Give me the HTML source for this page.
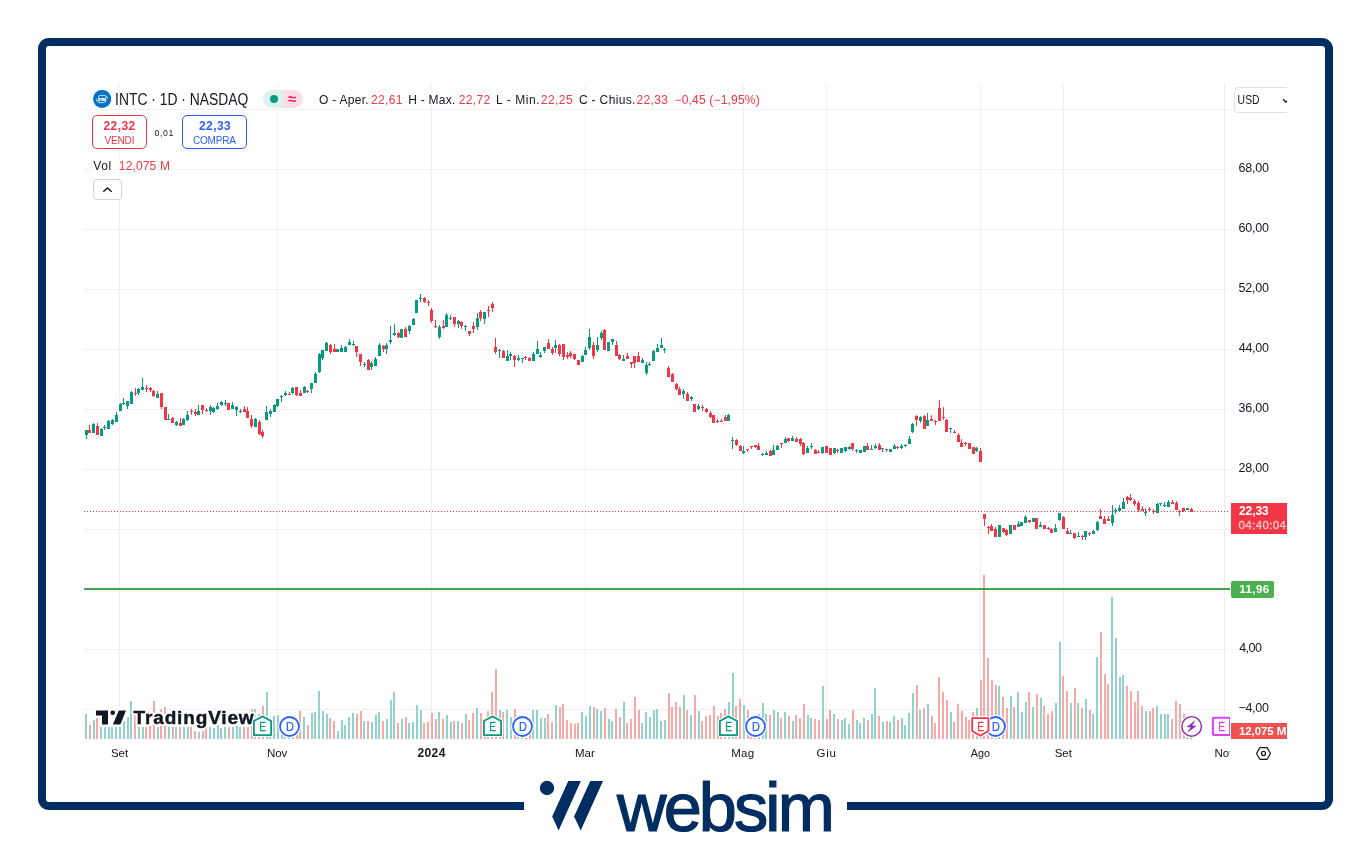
<!DOCTYPE html>
<html lang="it">
<head>
<meta charset="utf-8">
<title>INTC 1D NASDAQ</title>
<style>
html,body{margin:0;padding:0;background:#fff;}
body{width:1371px;height:848px;position:relative;overflow:hidden;font-family:"Liberation Sans",sans-serif;color:#131722;}
.abs{position:absolute;white-space:nowrap;}
#frame{position:absolute;left:38px;top:38px;width:1279px;height:756px;border:8px solid #012D60;border-radius:11px;}
#gap{position:absolute;left:524px;top:800px;width:323px;height:12px;background:#fff;}
#chart{position:absolute;left:0;top:0;}
.t12{font-size:12px;line-height:14px;}
.red{color:#F23645;}
.ax{position:absolute;left:1239px;font-size:12px;line-height:14px;color:#131722;white-space:nowrap;}
.tl{position:absolute;top:746px;font-size:12px;line-height:14px;color:#131722;white-space:nowrap;transform:translateX(-50%);}
.box{position:absolute;box-sizing:border-box;border:1px solid;border-radius:5px;background:#fff;text-align:center;}
.box b{display:block;font-size:12px;line-height:12px;margin-top:5px;font-weight:bold;letter-spacing:.3px;}
.box i{display:block;font-style:normal;font-size:10px;line-height:10px;margin-top:4px;}
</style>
</head>
<body>
<div id="frame"></div>
<div id="gap"></div>

<svg id="chart" style="will-change:transform" width="1371" height="848" viewBox="0 0 1371 848">
<g shape-rendering="crispEdges">
<rect x="84" y="109" width="1146" height="1" fill="#28322F" fill-opacity=".07"/>
<rect x="84" y="169" width="1146" height="1" fill="#28322F" fill-opacity=".07"/>
<rect x="84" y="229" width="1146" height="1" fill="#28322F" fill-opacity=".07"/>
<rect x="84" y="289" width="1146" height="1" fill="#28322F" fill-opacity=".07"/>
<rect x="84" y="349" width="1146" height="1" fill="#28322F" fill-opacity=".07"/>
<rect x="84" y="409" width="1146" height="1" fill="#28322F" fill-opacity=".07"/>
<rect x="84" y="469" width="1146" height="1" fill="#28322F" fill-opacity=".07"/>
<rect x="84" y="529" width="1146" height="1" fill="#28322F" fill-opacity=".07"/>
<rect x="84" y="589" width="1146" height="1" fill="#28322F" fill-opacity=".07"/>
<rect x="84" y="649" width="1146" height="1" fill="#28322F" fill-opacity=".07"/>
<rect x="84" y="709" width="1146" height="1" fill="#28322F" fill-opacity=".07"/>
<rect x="119" y="84" width="1" height="655" fill="#28322F" fill-opacity=".07"/>
<rect x="277" y="84" width="1" height="655" fill="#28322F" fill-opacity=".07"/>
<rect x="431" y="84" width="1" height="655" fill="#28322F" fill-opacity=".07"/>
<rect x="585" y="84" width="1" height="655" fill="#28322F" fill-opacity=".07"/>
<rect x="743" y="84" width="1" height="655" fill="#28322F" fill-opacity=".07"/>
<rect x="826" y="84" width="1" height="655" fill="#28322F" fill-opacity=".07"/>
<rect x="980" y="84" width="1" height="655" fill="#28322F" fill-opacity=".07"/>
<rect x="1063" y="84" width="1" height="655" fill="#28322F" fill-opacity=".07"/>
<rect x="1224" y="84" width="1" height="655" fill="#28322F" fill-opacity=".09"/>
</g>
<g shape-rendering="crispEdges">
<rect x="85" y="714" width="2" height="25" fill="#92D2CC"/>
<rect x="89" y="725" width="2" height="14" fill="#F7A9A7"/>
<rect x="93" y="720" width="2" height="19" fill="#92D2CC"/>
<rect x="96" y="718" width="2" height="21" fill="#F7A9A7"/>
<rect x="100" y="727" width="2" height="12" fill="#92D2CC"/>
<rect x="104" y="727" width="2" height="12" fill="#92D2CC"/>
<rect x="108" y="727" width="2" height="12" fill="#92D2CC"/>
<rect x="111" y="727" width="2" height="12" fill="#92D2CC"/>
<rect x="115" y="727" width="2" height="12" fill="#92D2CC"/>
<rect x="119" y="727" width="2" height="12" fill="#92D2CC"/>
<rect x="123" y="721" width="2" height="18" fill="#92D2CC"/>
<rect x="127" y="717" width="2" height="22" fill="#92D2CC"/>
<rect x="130" y="701" width="2" height="38" fill="#92D2CC"/>
<rect x="134" y="715" width="2" height="24" fill="#F7A9A7"/>
<rect x="138" y="727" width="2" height="12" fill="#92D2CC"/>
<rect x="142" y="727" width="2" height="12" fill="#92D2CC"/>
<rect x="145" y="727" width="2" height="12" fill="#F7A9A7"/>
<rect x="149" y="722" width="2" height="17" fill="#F7A9A7"/>
<rect x="153" y="701" width="2" height="38" fill="#F7A9A7"/>
<rect x="157" y="727" width="2" height="12" fill="#92D2CC"/>
<rect x="160" y="709" width="2" height="30" fill="#F7A9A7"/>
<rect x="164" y="707" width="2" height="32" fill="#F7A9A7"/>
<rect x="168" y="727" width="2" height="12" fill="#92D2CC"/>
<rect x="172" y="727" width="2" height="12" fill="#F7A9A7"/>
<rect x="175" y="727" width="2" height="12" fill="#92D2CC"/>
<rect x="179" y="727" width="2" height="12" fill="#F7A9A7"/>
<rect x="183" y="727" width="2" height="12" fill="#92D2CC"/>
<rect x="187" y="727" width="2" height="12" fill="#92D2CC"/>
<rect x="190" y="727" width="2" height="12" fill="#F7A9A7"/>
<rect x="194" y="731" width="2" height="8" fill="#F7A9A7"/>
<rect x="198" y="732" width="2" height="7" fill="#92D2CC"/>
<rect x="202" y="731" width="2" height="8" fill="#F7A9A7"/>
<rect x="205" y="728" width="2" height="11" fill="#F7A9A7"/>
<rect x="209" y="727" width="2" height="12" fill="#92D2CC"/>
<rect x="213" y="728" width="2" height="11" fill="#92D2CC"/>
<rect x="217" y="725" width="2" height="14" fill="#92D2CC"/>
<rect x="220" y="728" width="2" height="11" fill="#92D2CC"/>
<rect x="224" y="727" width="2" height="12" fill="#92D2CC"/>
<rect x="228" y="727" width="2" height="12" fill="#F7A9A7"/>
<rect x="232" y="727" width="2" height="12" fill="#92D2CC"/>
<rect x="236" y="726" width="2" height="13" fill="#92D2CC"/>
<rect x="239" y="727" width="2" height="12" fill="#92D2CC"/>
<rect x="243" y="727" width="2" height="12" fill="#F7A9A7"/>
<rect x="247" y="727" width="2" height="12" fill="#F7A9A7"/>
<rect x="251" y="709" width="2" height="30" fill="#F7A9A7"/>
<rect x="254" y="709" width="2" height="30" fill="#92D2CC"/>
<rect x="258" y="714" width="2" height="25" fill="#F7A9A7"/>
<rect x="262" y="706" width="2" height="33" fill="#F7A9A7"/>
<rect x="266" y="692" width="2" height="47" fill="#92D2CC"/>
<rect x="269" y="718" width="2" height="21" fill="#92D2CC"/>
<rect x="273" y="716" width="2" height="23" fill="#92D2CC"/>
<rect x="277" y="715" width="2" height="24" fill="#92D2CC"/>
<rect x="281" y="720" width="2" height="19" fill="#92D2CC"/>
<rect x="284" y="722" width="2" height="17" fill="#92D2CC"/>
<rect x="288" y="722" width="2" height="17" fill="#F7A9A7"/>
<rect x="292" y="722" width="2" height="17" fill="#92D2CC"/>
<rect x="296" y="720" width="2" height="19" fill="#F7A9A7"/>
<rect x="299" y="711" width="2" height="28" fill="#F7A9A7"/>
<rect x="303" y="717" width="2" height="22" fill="#92D2CC"/>
<rect x="307" y="725" width="2" height="14" fill="#F7A9A7"/>
<rect x="311" y="713" width="2" height="26" fill="#92D2CC"/>
<rect x="314" y="712" width="2" height="27" fill="#92D2CC"/>
<rect x="318" y="691" width="2" height="48" fill="#92D2CC"/>
<rect x="322" y="711" width="2" height="28" fill="#92D2CC"/>
<rect x="326" y="714" width="2" height="25" fill="#92D2CC"/>
<rect x="329" y="718" width="2" height="21" fill="#F7A9A7"/>
<rect x="333" y="721" width="2" height="18" fill="#F7A9A7"/>
<rect x="337" y="731" width="2" height="8" fill="#92D2CC"/>
<rect x="341" y="720" width="2" height="19" fill="#92D2CC"/>
<rect x="344" y="725" width="2" height="14" fill="#92D2CC"/>
<rect x="348" y="717" width="2" height="22" fill="#92D2CC"/>
<rect x="352" y="713" width="2" height="26" fill="#92D2CC"/>
<rect x="356" y="714" width="2" height="25" fill="#F7A9A7"/>
<rect x="360" y="711" width="2" height="28" fill="#F7A9A7"/>
<rect x="363" y="721" width="2" height="18" fill="#92D2CC"/>
<rect x="367" y="721" width="2" height="18" fill="#F7A9A7"/>
<rect x="371" y="722" width="2" height="17" fill="#92D2CC"/>
<rect x="375" y="715" width="2" height="24" fill="#92D2CC"/>
<rect x="378" y="712" width="2" height="27" fill="#92D2CC"/>
<rect x="382" y="721" width="2" height="18" fill="#F7A9A7"/>
<rect x="386" y="719" width="2" height="20" fill="#92D2CC"/>
<rect x="390" y="700" width="2" height="39" fill="#92D2CC"/>
<rect x="393" y="692" width="2" height="47" fill="#92D2CC"/>
<rect x="397" y="723" width="2" height="16" fill="#F7A9A7"/>
<rect x="401" y="719" width="2" height="20" fill="#92D2CC"/>
<rect x="405" y="717" width="2" height="22" fill="#F7A9A7"/>
<rect x="408" y="723" width="2" height="16" fill="#92D2CC"/>
<rect x="412" y="722" width="2" height="17" fill="#92D2CC"/>
<rect x="416" y="705" width="2" height="34" fill="#92D2CC"/>
<rect x="420" y="710" width="2" height="29" fill="#92D2CC"/>
<rect x="423" y="723" width="2" height="16" fill="#F7A9A7"/>
<rect x="427" y="722" width="2" height="17" fill="#F7A9A7"/>
<rect x="431" y="713" width="2" height="26" fill="#F7A9A7"/>
<rect x="435" y="719" width="2" height="20" fill="#F7A9A7"/>
<rect x="438" y="712" width="2" height="27" fill="#92D2CC"/>
<rect x="442" y="719" width="2" height="20" fill="#F7A9A7"/>
<rect x="446" y="715" width="2" height="24" fill="#92D2CC"/>
<rect x="450" y="722" width="2" height="17" fill="#92D2CC"/>
<rect x="453" y="721" width="2" height="18" fill="#F7A9A7"/>
<rect x="457" y="721" width="2" height="18" fill="#92D2CC"/>
<rect x="461" y="723" width="2" height="16" fill="#F7A9A7"/>
<rect x="465" y="714" width="2" height="25" fill="#92D2CC"/>
<rect x="468" y="720" width="2" height="19" fill="#F7A9A7"/>
<rect x="472" y="713" width="2" height="26" fill="#F7A9A7"/>
<rect x="476" y="708" width="2" height="31" fill="#92D2CC"/>
<rect x="480" y="713" width="2" height="26" fill="#F7A9A7"/>
<rect x="484" y="718" width="2" height="21" fill="#92D2CC"/>
<rect x="487" y="711" width="2" height="28" fill="#F7A9A7"/>
<rect x="491" y="692" width="2" height="47" fill="#F7A9A7"/>
<rect x="495" y="669" width="2" height="70" fill="#F7A9A7"/>
<rect x="499" y="710" width="2" height="29" fill="#92D2CC"/>
<rect x="502" y="712" width="2" height="27" fill="#F7A9A7"/>
<rect x="506" y="710" width="2" height="29" fill="#92D2CC"/>
<rect x="510" y="717" width="2" height="22" fill="#92D2CC"/>
<rect x="514" y="709" width="2" height="30" fill="#F7A9A7"/>
<rect x="517" y="722" width="2" height="17" fill="#92D2CC"/>
<rect x="521" y="722" width="2" height="17" fill="#92D2CC"/>
<rect x="525" y="722" width="2" height="17" fill="#F7A9A7"/>
<rect x="529" y="722" width="2" height="17" fill="#F7A9A7"/>
<rect x="532" y="710" width="2" height="29" fill="#92D2CC"/>
<rect x="536" y="710" width="2" height="29" fill="#92D2CC"/>
<rect x="540" y="718" width="2" height="21" fill="#92D2CC"/>
<rect x="544" y="718" width="2" height="21" fill="#92D2CC"/>
<rect x="547" y="714" width="2" height="25" fill="#F7A9A7"/>
<rect x="551" y="722" width="2" height="17" fill="#F7A9A7"/>
<rect x="555" y="705" width="2" height="34" fill="#92D2CC"/>
<rect x="559" y="707" width="2" height="32" fill="#F7A9A7"/>
<rect x="562" y="704" width="2" height="35" fill="#F7A9A7"/>
<rect x="566" y="720" width="2" height="19" fill="#F7A9A7"/>
<rect x="570" y="723" width="2" height="16" fill="#F7A9A7"/>
<rect x="574" y="724" width="2" height="15" fill="#F7A9A7"/>
<rect x="577" y="723" width="2" height="16" fill="#F7A9A7"/>
<rect x="581" y="712" width="2" height="27" fill="#92D2CC"/>
<rect x="585" y="716" width="2" height="23" fill="#92D2CC"/>
<rect x="589" y="706" width="2" height="33" fill="#92D2CC"/>
<rect x="593" y="707" width="2" height="32" fill="#F7A9A7"/>
<rect x="596" y="709" width="2" height="30" fill="#92D2CC"/>
<rect x="600" y="711" width="2" height="28" fill="#92D2CC"/>
<rect x="604" y="708" width="2" height="31" fill="#F7A9A7"/>
<rect x="608" y="719" width="2" height="20" fill="#92D2CC"/>
<rect x="611" y="721" width="2" height="18" fill="#92D2CC"/>
<rect x="615" y="709" width="2" height="30" fill="#F7A9A7"/>
<rect x="619" y="717" width="2" height="22" fill="#F7A9A7"/>
<rect x="623" y="702" width="2" height="37" fill="#92D2CC"/>
<rect x="626" y="723" width="2" height="16" fill="#F7A9A7"/>
<rect x="630" y="719" width="2" height="20" fill="#F7A9A7"/>
<rect x="634" y="697" width="2" height="42" fill="#F7A9A7"/>
<rect x="638" y="710" width="2" height="29" fill="#F7A9A7"/>
<rect x="641" y="723" width="2" height="16" fill="#92D2CC"/>
<rect x="645" y="712" width="2" height="27" fill="#92D2CC"/>
<rect x="649" y="717" width="2" height="22" fill="#92D2CC"/>
<rect x="653" y="710" width="2" height="29" fill="#92D2CC"/>
<rect x="656" y="709" width="2" height="30" fill="#92D2CC"/>
<rect x="660" y="721" width="2" height="18" fill="#92D2CC"/>
<rect x="664" y="720" width="2" height="19" fill="#92D2CC"/>
<rect x="668" y="693" width="2" height="46" fill="#F7A9A7"/>
<rect x="671" y="707" width="2" height="32" fill="#F7A9A7"/>
<rect x="675" y="702" width="2" height="37" fill="#F7A9A7"/>
<rect x="679" y="707" width="2" height="32" fill="#F7A9A7"/>
<rect x="683" y="695" width="2" height="44" fill="#92D2CC"/>
<rect x="686" y="710" width="2" height="29" fill="#F7A9A7"/>
<rect x="690" y="715" width="2" height="24" fill="#92D2CC"/>
<rect x="694" y="695" width="2" height="44" fill="#F7A9A7"/>
<rect x="698" y="711" width="2" height="28" fill="#92D2CC"/>
<rect x="701" y="721" width="2" height="18" fill="#F7A9A7"/>
<rect x="705" y="716" width="2" height="23" fill="#F7A9A7"/>
<rect x="709" y="715" width="2" height="24" fill="#F7A9A7"/>
<rect x="713" y="706" width="2" height="33" fill="#F7A9A7"/>
<rect x="717" y="716" width="2" height="23" fill="#F7A9A7"/>
<rect x="720" y="713" width="2" height="26" fill="#F7A9A7"/>
<rect x="724" y="709" width="2" height="30" fill="#F7A9A7"/>
<rect x="728" y="702" width="2" height="37" fill="#92D2CC"/>
<rect x="732" y="673" width="2" height="66" fill="#92D2CC"/>
<rect x="735" y="706" width="2" height="33" fill="#F7A9A7"/>
<rect x="739" y="699" width="2" height="40" fill="#F7A9A7"/>
<rect x="743" y="705" width="2" height="34" fill="#92D2CC"/>
<rect x="747" y="710" width="2" height="29" fill="#F7A9A7"/>
<rect x="750" y="720" width="2" height="19" fill="#F7A9A7"/>
<rect x="754" y="720" width="2" height="19" fill="#F7A9A7"/>
<rect x="758" y="714" width="2" height="25" fill="#F7A9A7"/>
<rect x="762" y="703" width="2" height="36" fill="#92D2CC"/>
<rect x="765" y="714" width="2" height="25" fill="#92D2CC"/>
<rect x="769" y="715" width="2" height="24" fill="#F7A9A7"/>
<rect x="773" y="710" width="2" height="29" fill="#92D2CC"/>
<rect x="777" y="712" width="2" height="27" fill="#92D2CC"/>
<rect x="780" y="718" width="2" height="21" fill="#F7A9A7"/>
<rect x="784" y="712" width="2" height="27" fill="#92D2CC"/>
<rect x="788" y="716" width="2" height="23" fill="#F7A9A7"/>
<rect x="792" y="721" width="2" height="18" fill="#92D2CC"/>
<rect x="795" y="715" width="2" height="24" fill="#F7A9A7"/>
<rect x="799" y="718" width="2" height="21" fill="#F7A9A7"/>
<rect x="803" y="704" width="2" height="35" fill="#F7A9A7"/>
<rect x="807" y="715" width="2" height="24" fill="#92D2CC"/>
<rect x="810" y="718" width="2" height="21" fill="#92D2CC"/>
<rect x="814" y="719" width="2" height="20" fill="#F7A9A7"/>
<rect x="818" y="720" width="2" height="19" fill="#F7A9A7"/>
<rect x="822" y="686" width="2" height="53" fill="#92D2CC"/>
<rect x="826" y="719" width="2" height="20" fill="#F7A9A7"/>
<rect x="829" y="710" width="2" height="29" fill="#F7A9A7"/>
<rect x="833" y="714" width="2" height="25" fill="#92D2CC"/>
<rect x="837" y="719" width="2" height="20" fill="#F7A9A7"/>
<rect x="841" y="720" width="2" height="19" fill="#92D2CC"/>
<rect x="844" y="718" width="2" height="21" fill="#92D2CC"/>
<rect x="848" y="724" width="2" height="15" fill="#92D2CC"/>
<rect x="852" y="710" width="2" height="29" fill="#F7A9A7"/>
<rect x="856" y="720" width="2" height="19" fill="#92D2CC"/>
<rect x="859" y="723" width="2" height="16" fill="#92D2CC"/>
<rect x="863" y="718" width="2" height="21" fill="#92D2CC"/>
<rect x="867" y="720" width="2" height="19" fill="#F7A9A7"/>
<rect x="871" y="714" width="2" height="25" fill="#92D2CC"/>
<rect x="874" y="688" width="2" height="51" fill="#92D2CC"/>
<rect x="878" y="716" width="2" height="23" fill="#F7A9A7"/>
<rect x="882" y="722" width="2" height="17" fill="#92D2CC"/>
<rect x="886" y="721" width="2" height="18" fill="#F7A9A7"/>
<rect x="889" y="722" width="2" height="17" fill="#92D2CC"/>
<rect x="893" y="716" width="2" height="23" fill="#92D2CC"/>
<rect x="897" y="720" width="2" height="19" fill="#F7A9A7"/>
<rect x="901" y="718" width="2" height="21" fill="#92D2CC"/>
<rect x="904" y="725" width="2" height="14" fill="#92D2CC"/>
<rect x="908" y="713" width="2" height="26" fill="#92D2CC"/>
<rect x="912" y="693" width="2" height="46" fill="#92D2CC"/>
<rect x="916" y="685" width="2" height="54" fill="#F7A9A7"/>
<rect x="919" y="710" width="2" height="29" fill="#92D2CC"/>
<rect x="923" y="708" width="2" height="31" fill="#F7A9A7"/>
<rect x="927" y="704" width="2" height="35" fill="#92D2CC"/>
<rect x="931" y="716" width="2" height="23" fill="#F7A9A7"/>
<rect x="934" y="723" width="2" height="16" fill="#F7A9A7"/>
<rect x="938" y="677" width="2" height="62" fill="#F7A9A7"/>
<rect x="942" y="692" width="2" height="47" fill="#F7A9A7"/>
<rect x="946" y="700" width="2" height="39" fill="#F7A9A7"/>
<rect x="950" y="712" width="2" height="27" fill="#92D2CC"/>
<rect x="953" y="722" width="2" height="17" fill="#F7A9A7"/>
<rect x="957" y="704" width="2" height="35" fill="#F7A9A7"/>
<rect x="961" y="711" width="2" height="28" fill="#F7A9A7"/>
<rect x="965" y="717" width="2" height="22" fill="#F7A9A7"/>
<rect x="968" y="720" width="2" height="19" fill="#F7A9A7"/>
<rect x="972" y="712" width="2" height="27" fill="#F7A9A7"/>
<rect x="976" y="708" width="2" height="31" fill="#92D2CC"/>
<rect x="980" y="680" width="2" height="59" fill="#F7A9A7"/>
<rect x="983" y="575" width="2" height="164" fill="#F7A9A7"/>
<rect x="987" y="658" width="2" height="81" fill="#F7A9A7"/>
<rect x="991" y="680" width="2" height="59" fill="#F7A9A7"/>
<rect x="995" y="685" width="2" height="54" fill="#F7A9A7"/>
<rect x="998" y="686" width="2" height="53" fill="#92D2CC"/>
<rect x="1002" y="697" width="2" height="42" fill="#F7A9A7"/>
<rect x="1006" y="708" width="2" height="31" fill="#F7A9A7"/>
<rect x="1010" y="696" width="2" height="43" fill="#92D2CC"/>
<rect x="1013" y="707" width="2" height="32" fill="#F7A9A7"/>
<rect x="1017" y="692" width="2" height="47" fill="#92D2CC"/>
<rect x="1021" y="712" width="2" height="27" fill="#92D2CC"/>
<rect x="1025" y="702" width="2" height="37" fill="#92D2CC"/>
<rect x="1028" y="692" width="2" height="47" fill="#F7A9A7"/>
<rect x="1032" y="707" width="2" height="32" fill="#92D2CC"/>
<rect x="1036" y="694" width="2" height="45" fill="#F7A9A7"/>
<rect x="1040" y="698" width="2" height="41" fill="#92D2CC"/>
<rect x="1043" y="706" width="2" height="33" fill="#F7A9A7"/>
<rect x="1047" y="714" width="2" height="25" fill="#F7A9A7"/>
<rect x="1051" y="711" width="2" height="28" fill="#F7A9A7"/>
<rect x="1055" y="703" width="2" height="36" fill="#92D2CC"/>
<rect x="1059" y="642" width="2" height="97" fill="#92D2CC"/>
<rect x="1062" y="676" width="2" height="63" fill="#F7A9A7"/>
<rect x="1066" y="691" width="2" height="48" fill="#F7A9A7"/>
<rect x="1070" y="703" width="2" height="36" fill="#92D2CC"/>
<rect x="1074" y="688" width="2" height="51" fill="#F7A9A7"/>
<rect x="1077" y="703" width="2" height="36" fill="#92D2CC"/>
<rect x="1081" y="708" width="2" height="31" fill="#F7A9A7"/>
<rect x="1085" y="699" width="2" height="40" fill="#92D2CC"/>
<rect x="1089" y="710" width="2" height="29" fill="#F7A9A7"/>
<rect x="1092" y="714" width="2" height="25" fill="#92D2CC"/>
<rect x="1096" y="657" width="2" height="82" fill="#92D2CC"/>
<rect x="1100" y="632" width="2" height="107" fill="#F7A9A7"/>
<rect x="1104" y="674" width="2" height="65" fill="#F7A9A7"/>
<rect x="1107" y="684" width="2" height="55" fill="#F7A9A7"/>
<rect x="1111" y="597" width="2" height="142" fill="#92D2CC"/>
<rect x="1115" y="638" width="2" height="101" fill="#92D2CC"/>
<rect x="1119" y="677" width="2" height="62" fill="#92D2CC"/>
<rect x="1122" y="675" width="2" height="64" fill="#92D2CC"/>
<rect x="1126" y="686" width="2" height="53" fill="#F7A9A7"/>
<rect x="1130" y="691" width="2" height="48" fill="#F7A9A7"/>
<rect x="1134" y="702" width="2" height="37" fill="#F7A9A7"/>
<rect x="1137" y="691" width="2" height="48" fill="#F7A9A7"/>
<rect x="1141" y="706" width="2" height="33" fill="#F7A9A7"/>
<rect x="1145" y="711" width="2" height="28" fill="#92D2CC"/>
<rect x="1149" y="711" width="2" height="28" fill="#F7A9A7"/>
<rect x="1152" y="708" width="2" height="31" fill="#F7A9A7"/>
<rect x="1156" y="706" width="2" height="33" fill="#92D2CC"/>
<rect x="1160" y="714" width="2" height="25" fill="#92D2CC"/>
<rect x="1164" y="714" width="2" height="25" fill="#92D2CC"/>
<rect x="1167" y="714" width="2" height="25" fill="#92D2CC"/>
<rect x="1171" y="719" width="2" height="20" fill="#F7A9A7"/>
<rect x="1175" y="701" width="2" height="38" fill="#F7A9A7"/>
<rect x="1179" y="704" width="2" height="35" fill="#F7A9A7"/>
<rect x="1183" y="714" width="2" height="25" fill="#F7A9A7"/>
<rect x="1186" y="737" width="2" height="2" fill="#92D2CC"/>
<rect x="1190" y="738" width="2" height="1" fill="#F7A9A7"/>
</g>
<!-- last price dotted line -->
<line x1="84" y1="511.5" x2="1229" y2="511.5" stroke="#F23645" stroke-width="1" stroke-dasharray="1 2" shape-rendering="crispEdges"/>
<g shape-rendering="crispEdges">
<rect x="86" y="430" width="1" height="9" fill="#089981"/>
<rect x="85" y="430" width="3" height="5" fill="#089981"/>
<rect x="89" y="425" width="1" height="8" fill="#F23645"/>
<rect x="88" y="430" width="3" height="3" fill="#F23645"/>
<rect x="93" y="423" width="1" height="10" fill="#089981"/>
<rect x="92" y="424" width="3" height="9" fill="#089981"/>
<rect x="97" y="423" width="1" height="12" fill="#F23645"/>
<rect x="96" y="426" width="3" height="9" fill="#F23645"/>
<rect x="101" y="428" width="1" height="8" fill="#089981"/>
<rect x="100" y="429" width="3" height="7" fill="#089981"/>
<rect x="104" y="425" width="1" height="5" fill="#089981"/>
<rect x="103" y="427" width="3" height="1" fill="#089981"/>
<rect x="108" y="420" width="1" height="9" fill="#089981"/>
<rect x="107" y="421" width="3" height="8" fill="#089981"/>
<rect x="112" y="419" width="1" height="6" fill="#089981"/>
<rect x="111" y="420" width="3" height="4" fill="#089981"/>
<rect x="116" y="412" width="1" height="10" fill="#089981"/>
<rect x="115" y="415" width="3" height="7" fill="#089981"/>
<rect x="120" y="403" width="1" height="8" fill="#089981"/>
<rect x="119" y="404" width="3" height="7" fill="#089981"/>
<rect x="123" y="398" width="1" height="7" fill="#089981"/>
<rect x="122" y="403" width="3" height="1" fill="#089981"/>
<rect x="127" y="401" width="1" height="8" fill="#089981"/>
<rect x="126" y="401" width="3" height="5" fill="#089981"/>
<rect x="131" y="391" width="1" height="13" fill="#089981"/>
<rect x="130" y="392" width="3" height="12" fill="#089981"/>
<rect x="135" y="388" width="1" height="8" fill="#F23645"/>
<rect x="134" y="393" width="3" height="1" fill="#F23645"/>
<rect x="138" y="388" width="1" height="7" fill="#089981"/>
<rect x="137" y="389" width="3" height="4" fill="#089981"/>
<rect x="142" y="378" width="1" height="12" fill="#089981"/>
<rect x="141" y="387" width="3" height="3" fill="#089981"/>
<rect x="146" y="385" width="1" height="7" fill="#F23645"/>
<rect x="145" y="388" width="3" height="1" fill="#F23645"/>
<rect x="150" y="387" width="1" height="5" fill="#F23645"/>
<rect x="149" y="388" width="3" height="2" fill="#F23645"/>
<rect x="153" y="390" width="1" height="7" fill="#F23645"/>
<rect x="152" y="391" width="3" height="5" fill="#F23645"/>
<rect x="157" y="391" width="1" height="7" fill="#089981"/>
<rect x="156" y="394" width="3" height="4" fill="#089981"/>
<rect x="161" y="393" width="1" height="16" fill="#F23645"/>
<rect x="160" y="393" width="3" height="14" fill="#F23645"/>
<rect x="164" y="407" width="3" height="13" fill="#F23645"/>
<rect x="168" y="414" width="1" height="6" fill="#089981"/>
<rect x="167" y="419" width="3" height="1" fill="#089981"/>
<rect x="172" y="417" width="1" height="6" fill="#F23645"/>
<rect x="171" y="418" width="3" height="5" fill="#F23645"/>
<rect x="176" y="421" width="1" height="5" fill="#089981"/>
<rect x="175" y="422" width="3" height="3" fill="#089981"/>
<rect x="180" y="418" width="1" height="8" fill="#F23645"/>
<rect x="179" y="423" width="3" height="3" fill="#F23645"/>
<rect x="183" y="418" width="1" height="7" fill="#089981"/>
<rect x="182" y="419" width="3" height="6" fill="#089981"/>
<rect x="187" y="411" width="1" height="10" fill="#089981"/>
<rect x="186" y="415" width="3" height="5" fill="#089981"/>
<rect x="191" y="409" width="1" height="6" fill="#F23645"/>
<rect x="190" y="411" width="3" height="1" fill="#F23645"/>
<rect x="195" y="409" width="1" height="7" fill="#F23645"/>
<rect x="194" y="412" width="3" height="2" fill="#F23645"/>
<rect x="198" y="405" width="1" height="10" fill="#089981"/>
<rect x="197" y="411" width="3" height="4" fill="#089981"/>
<rect x="202" y="405" width="1" height="9" fill="#F23645"/>
<rect x="201" y="405" width="3" height="5" fill="#F23645"/>
<rect x="206" y="408" width="1" height="4" fill="#F23645"/>
<rect x="205" y="410" width="3" height="1" fill="#F23645"/>
<rect x="210" y="405" width="1" height="10" fill="#089981"/>
<rect x="209" y="407" width="3" height="4" fill="#089981"/>
<rect x="213" y="407" width="1" height="6" fill="#089981"/>
<rect x="212" y="408" width="3" height="4" fill="#089981"/>
<rect x="217" y="403" width="1" height="7" fill="#089981"/>
<rect x="216" y="406" width="3" height="3" fill="#089981"/>
<rect x="221" y="401" width="1" height="5" fill="#089981"/>
<rect x="220" y="402" width="3" height="3" fill="#089981"/>
<rect x="225" y="400" width="1" height="6" fill="#089981"/>
<rect x="224" y="403" width="3" height="1" fill="#089981"/>
<rect x="227" y="403" width="3" height="7" fill="#F23645"/>
<rect x="232" y="402" width="1" height="7" fill="#089981"/>
<rect x="231" y="405" width="3" height="4" fill="#089981"/>
<rect x="236" y="406" width="1" height="10" fill="#089981"/>
<rect x="235" y="407" width="3" height="3" fill="#089981"/>
<rect x="240" y="409" width="1" height="4" fill="#089981"/>
<rect x="239" y="411" width="3" height="1" fill="#089981"/>
<rect x="244" y="406" width="1" height="6" fill="#F23645"/>
<rect x="243" y="409" width="3" height="3" fill="#F23645"/>
<rect x="247" y="407" width="1" height="11" fill="#F23645"/>
<rect x="246" y="411" width="3" height="7" fill="#F23645"/>
<rect x="251" y="415" width="1" height="13" fill="#F23645"/>
<rect x="250" y="419" width="3" height="7" fill="#F23645"/>
<rect x="255" y="418" width="1" height="9" fill="#089981"/>
<rect x="254" y="419" width="3" height="8" fill="#089981"/>
<rect x="259" y="420" width="1" height="15" fill="#F23645"/>
<rect x="258" y="422" width="3" height="12" fill="#F23645"/>
<rect x="262" y="430" width="1" height="8" fill="#F23645"/>
<rect x="261" y="432" width="3" height="4" fill="#F23645"/>
<rect x="266" y="406" width="1" height="14" fill="#089981"/>
<rect x="265" y="412" width="3" height="8" fill="#089981"/>
<rect x="270" y="409" width="1" height="8" fill="#089981"/>
<rect x="269" y="411" width="3" height="3" fill="#089981"/>
<rect x="274" y="404" width="1" height="8" fill="#089981"/>
<rect x="273" y="405" width="3" height="7" fill="#089981"/>
<rect x="277" y="399" width="1" height="8" fill="#089981"/>
<rect x="276" y="399" width="3" height="7" fill="#089981"/>
<rect x="281" y="395" width="1" height="7" fill="#089981"/>
<rect x="280" y="396" width="3" height="1" fill="#089981"/>
<rect x="285" y="391" width="1" height="5" fill="#089981"/>
<rect x="284" y="393" width="3" height="2" fill="#089981"/>
<rect x="289" y="392" width="1" height="3" fill="#F23645"/>
<rect x="288" y="394" width="3" height="1" fill="#F23645"/>
<rect x="292" y="387" width="1" height="7" fill="#089981"/>
<rect x="291" y="388" width="3" height="5" fill="#089981"/>
<rect x="296" y="387" width="1" height="9" fill="#F23645"/>
<rect x="295" y="387" width="3" height="8" fill="#F23645"/>
<rect x="300" y="390" width="1" height="6" fill="#F23645"/>
<rect x="299" y="393" width="3" height="3" fill="#F23645"/>
<rect x="304" y="386" width="1" height="7" fill="#089981"/>
<rect x="303" y="387" width="3" height="6" fill="#089981"/>
<rect x="307" y="390" width="1" height="3" fill="#F23645"/>
<rect x="306" y="391" width="3" height="1" fill="#F23645"/>
<rect x="311" y="383" width="1" height="10" fill="#089981"/>
<rect x="310" y="383" width="3" height="6" fill="#089981"/>
<rect x="315" y="372" width="1" height="11" fill="#089981"/>
<rect x="314" y="374" width="3" height="9" fill="#089981"/>
<rect x="319" y="353" width="1" height="20" fill="#089981"/>
<rect x="318" y="354" width="3" height="18" fill="#089981"/>
<rect x="322" y="350" width="1" height="10" fill="#089981"/>
<rect x="321" y="350" width="3" height="8" fill="#089981"/>
<rect x="326" y="342" width="1" height="9" fill="#089981"/>
<rect x="325" y="343" width="3" height="8" fill="#089981"/>
<rect x="330" y="344" width="1" height="10" fill="#F23645"/>
<rect x="329" y="345" width="3" height="7" fill="#F23645"/>
<rect x="334" y="344" width="1" height="8" fill="#F23645"/>
<rect x="333" y="349" width="3" height="3" fill="#F23645"/>
<rect x="336" y="349" width="3" height="3" fill="#089981"/>
<rect x="341" y="345" width="1" height="7" fill="#089981"/>
<rect x="340" y="348" width="3" height="4" fill="#089981"/>
<rect x="345" y="346" width="1" height="6" fill="#089981"/>
<rect x="344" y="347" width="3" height="5" fill="#089981"/>
<rect x="349" y="339" width="1" height="6" fill="#089981"/>
<rect x="348" y="342" width="3" height="3" fill="#089981"/>
<rect x="353" y="341" width="1" height="5" fill="#089981"/>
<rect x="352" y="344" width="3" height="1" fill="#089981"/>
<rect x="356" y="346" width="1" height="11" fill="#F23645"/>
<rect x="355" y="346" width="3" height="6" fill="#F23645"/>
<rect x="360" y="354" width="1" height="12" fill="#F23645"/>
<rect x="359" y="354" width="3" height="8" fill="#F23645"/>
<rect x="364" y="362" width="1" height="5" fill="#089981"/>
<rect x="363" y="364" width="3" height="1" fill="#089981"/>
<rect x="368" y="359" width="1" height="11" fill="#F23645"/>
<rect x="367" y="360" width="3" height="10" fill="#F23645"/>
<rect x="371" y="361" width="1" height="9" fill="#089981"/>
<rect x="370" y="363" width="3" height="4" fill="#089981"/>
<rect x="375" y="357" width="1" height="9" fill="#089981"/>
<rect x="374" y="359" width="3" height="7" fill="#089981"/>
<rect x="379" y="343" width="1" height="13" fill="#089981"/>
<rect x="378" y="345" width="3" height="11" fill="#089981"/>
<rect x="383" y="345" width="1" height="7" fill="#F23645"/>
<rect x="382" y="346" width="3" height="3" fill="#F23645"/>
<rect x="386" y="343" width="1" height="11" fill="#089981"/>
<rect x="385" y="345" width="3" height="4" fill="#089981"/>
<rect x="390" y="326" width="1" height="18" fill="#089981"/>
<rect x="389" y="340" width="3" height="2" fill="#089981"/>
<rect x="394" y="324" width="1" height="12" fill="#089981"/>
<rect x="393" y="333" width="3" height="2" fill="#089981"/>
<rect x="398" y="332" width="1" height="6" fill="#F23645"/>
<rect x="397" y="333" width="3" height="4" fill="#F23645"/>
<rect x="400" y="329" width="3" height="9" fill="#089981"/>
<rect x="405" y="327" width="1" height="10" fill="#F23645"/>
<rect x="404" y="329" width="3" height="8" fill="#F23645"/>
<rect x="409" y="325" width="1" height="9" fill="#089981"/>
<rect x="408" y="326" width="3" height="5" fill="#089981"/>
<rect x="413" y="318" width="1" height="7" fill="#089981"/>
<rect x="412" y="319" width="3" height="6" fill="#089981"/>
<rect x="415" y="300" width="3" height="13" fill="#089981"/>
<rect x="420" y="294" width="1" height="8" fill="#089981"/>
<rect x="419" y="298" width="3" height="1" fill="#089981"/>
<rect x="424" y="297" width="1" height="6" fill="#F23645"/>
<rect x="423" y="298" width="3" height="4" fill="#F23645"/>
<rect x="428" y="300" width="1" height="6" fill="#F23645"/>
<rect x="427" y="302" width="3" height="1" fill="#F23645"/>
<rect x="431" y="308" width="1" height="15" fill="#F23645"/>
<rect x="430" y="310" width="3" height="11" fill="#F23645"/>
<rect x="435" y="320" width="1" height="8" fill="#F23645"/>
<rect x="434" y="326" width="3" height="1" fill="#F23645"/>
<rect x="439" y="325" width="1" height="14" fill="#089981"/>
<rect x="438" y="327" width="3" height="10" fill="#089981"/>
<rect x="443" y="320" width="1" height="9" fill="#F23645"/>
<rect x="442" y="326" width="3" height="2" fill="#F23645"/>
<rect x="446" y="313" width="1" height="14" fill="#089981"/>
<rect x="445" y="315" width="3" height="12" fill="#089981"/>
<rect x="450" y="315" width="1" height="5" fill="#089981"/>
<rect x="449" y="318" width="3" height="1" fill="#089981"/>
<rect x="454" y="317" width="1" height="10" fill="#F23645"/>
<rect x="453" y="317" width="3" height="7" fill="#F23645"/>
<rect x="458" y="320" width="1" height="8" fill="#089981"/>
<rect x="457" y="321" width="3" height="3" fill="#089981"/>
<rect x="461" y="321" width="1" height="8" fill="#F23645"/>
<rect x="460" y="322" width="3" height="4" fill="#F23645"/>
<rect x="465" y="325" width="1" height="6" fill="#089981"/>
<rect x="464" y="326" width="3" height="1" fill="#089981"/>
<rect x="469" y="331" width="1" height="5" fill="#F23645"/>
<rect x="468" y="331" width="3" height="3" fill="#F23645"/>
<rect x="473" y="322" width="1" height="11" fill="#F23645"/>
<rect x="472" y="326" width="3" height="3" fill="#F23645"/>
<rect x="477" y="313" width="1" height="17" fill="#089981"/>
<rect x="476" y="318" width="3" height="9" fill="#089981"/>
<rect x="480" y="310" width="1" height="11" fill="#F23645"/>
<rect x="479" y="312" width="3" height="6" fill="#F23645"/>
<rect x="484" y="312" width="1" height="12" fill="#089981"/>
<rect x="483" y="312" width="3" height="7" fill="#089981"/>
<rect x="488" y="306" width="1" height="11" fill="#F23645"/>
<rect x="487" y="310" width="3" height="1" fill="#F23645"/>
<rect x="492" y="302" width="1" height="10" fill="#F23645"/>
<rect x="491" y="304" width="3" height="4" fill="#F23645"/>
<rect x="495" y="338" width="1" height="16" fill="#F23645"/>
<rect x="494" y="347" width="3" height="5" fill="#F23645"/>
<rect x="499" y="349" width="1" height="9" fill="#089981"/>
<rect x="498" y="350" width="3" height="1" fill="#089981"/>
<rect x="503" y="350" width="1" height="8" fill="#F23645"/>
<rect x="502" y="351" width="3" height="7" fill="#F23645"/>
<rect x="507" y="350" width="1" height="11" fill="#089981"/>
<rect x="506" y="356" width="3" height="5" fill="#089981"/>
<rect x="510" y="352" width="1" height="8" fill="#089981"/>
<rect x="509" y="354" width="3" height="2" fill="#089981"/>
<rect x="514" y="355" width="1" height="12" fill="#F23645"/>
<rect x="513" y="356" width="3" height="4" fill="#F23645"/>
<rect x="518" y="355" width="1" height="6" fill="#089981"/>
<rect x="517" y="358" width="3" height="2" fill="#089981"/>
<rect x="522" y="358" width="1" height="5" fill="#089981"/>
<rect x="521" y="358" width="3" height="1" fill="#089981"/>
<rect x="525" y="356" width="1" height="4" fill="#F23645"/>
<rect x="524" y="357" width="3" height="1" fill="#F23645"/>
<rect x="529" y="357" width="1" height="4" fill="#F23645"/>
<rect x="528" y="358" width="3" height="3" fill="#F23645"/>
<rect x="533" y="352" width="1" height="9" fill="#089981"/>
<rect x="532" y="354" width="3" height="7" fill="#089981"/>
<rect x="537" y="341" width="1" height="13" fill="#089981"/>
<rect x="536" y="349" width="3" height="5" fill="#089981"/>
<rect x="540" y="352" width="1" height="6" fill="#089981"/>
<rect x="539" y="355" width="3" height="2" fill="#089981"/>
<rect x="544" y="347" width="1" height="6" fill="#089981"/>
<rect x="543" y="347" width="3" height="4" fill="#089981"/>
<rect x="548" y="339" width="1" height="10" fill="#F23645"/>
<rect x="547" y="343" width="3" height="6" fill="#F23645"/>
<rect x="552" y="347" width="1" height="8" fill="#F23645"/>
<rect x="551" y="349" width="3" height="4" fill="#F23645"/>
<rect x="555" y="340" width="1" height="13" fill="#089981"/>
<rect x="554" y="345" width="3" height="3" fill="#089981"/>
<rect x="559" y="344" width="1" height="12" fill="#F23645"/>
<rect x="558" y="345" width="3" height="9" fill="#F23645"/>
<rect x="563" y="344" width="1" height="16" fill="#F23645"/>
<rect x="562" y="344" width="3" height="13" fill="#F23645"/>
<rect x="567" y="352" width="1" height="7" fill="#F23645"/>
<rect x="566" y="355" width="3" height="2" fill="#F23645"/>
<rect x="570" y="351" width="1" height="7" fill="#F23645"/>
<rect x="569" y="353" width="3" height="3" fill="#F23645"/>
<rect x="574" y="354" width="1" height="6" fill="#F23645"/>
<rect x="573" y="354" width="3" height="5" fill="#F23645"/>
<rect x="577" y="360" width="3" height="5" fill="#F23645"/>
<rect x="582" y="355" width="1" height="7" fill="#089981"/>
<rect x="581" y="356" width="3" height="6" fill="#089981"/>
<rect x="585" y="347" width="1" height="8" fill="#089981"/>
<rect x="584" y="350" width="3" height="5" fill="#089981"/>
<rect x="589" y="329" width="1" height="21" fill="#089981"/>
<rect x="588" y="337" width="3" height="11" fill="#089981"/>
<rect x="593" y="342" width="1" height="17" fill="#F23645"/>
<rect x="592" y="345" width="3" height="11" fill="#F23645"/>
<rect x="597" y="337" width="1" height="15" fill="#089981"/>
<rect x="596" y="345" width="3" height="5" fill="#089981"/>
<rect x="601" y="331" width="1" height="9" fill="#089981"/>
<rect x="600" y="333" width="3" height="5" fill="#089981"/>
<rect x="604" y="329" width="1" height="21" fill="#F23645"/>
<rect x="603" y="330" width="3" height="20" fill="#F23645"/>
<rect x="607" y="342" width="3" height="9" fill="#089981"/>
<rect x="612" y="339" width="1" height="6" fill="#089981"/>
<rect x="611" y="339" width="3" height="3" fill="#089981"/>
<rect x="616" y="341" width="1" height="15" fill="#F23645"/>
<rect x="615" y="345" width="3" height="11" fill="#F23645"/>
<rect x="619" y="354" width="1" height="6" fill="#F23645"/>
<rect x="618" y="355" width="3" height="4" fill="#F23645"/>
<rect x="623" y="355" width="1" height="6" fill="#089981"/>
<rect x="622" y="359" width="3" height="2" fill="#089981"/>
<rect x="627" y="353" width="1" height="6" fill="#F23645"/>
<rect x="626" y="356" width="3" height="3" fill="#F23645"/>
<rect x="631" y="362" width="1" height="6" fill="#F23645"/>
<rect x="630" y="362" width="3" height="2" fill="#F23645"/>
<rect x="634" y="356" width="1" height="12" fill="#F23645"/>
<rect x="633" y="356" width="3" height="7" fill="#F23645"/>
<rect x="638" y="352" width="1" height="10" fill="#F23645"/>
<rect x="637" y="356" width="3" height="6" fill="#F23645"/>
<rect x="642" y="358" width="1" height="5" fill="#089981"/>
<rect x="641" y="360" width="3" height="3" fill="#089981"/>
<rect x="646" y="362" width="1" height="13" fill="#089981"/>
<rect x="645" y="365" width="3" height="8" fill="#089981"/>
<rect x="649" y="362" width="1" height="4" fill="#089981"/>
<rect x="648" y="364" width="3" height="1" fill="#089981"/>
<rect x="653" y="350" width="1" height="11" fill="#089981"/>
<rect x="652" y="351" width="3" height="10" fill="#089981"/>
<rect x="657" y="344" width="1" height="8" fill="#089981"/>
<rect x="656" y="348" width="3" height="4" fill="#089981"/>
<rect x="661" y="338" width="1" height="10" fill="#089981"/>
<rect x="660" y="345" width="3" height="3" fill="#089981"/>
<rect x="664" y="348" width="1" height="5" fill="#089981"/>
<rect x="663" y="349" width="3" height="1" fill="#089981"/>
<rect x="668" y="366" width="1" height="11" fill="#F23645"/>
<rect x="667" y="368" width="3" height="9" fill="#F23645"/>
<rect x="672" y="373" width="1" height="9" fill="#F23645"/>
<rect x="671" y="374" width="3" height="8" fill="#F23645"/>
<rect x="676" y="383" width="1" height="7" fill="#F23645"/>
<rect x="675" y="384" width="3" height="5" fill="#F23645"/>
<rect x="679" y="387" width="1" height="8" fill="#F23645"/>
<rect x="678" y="389" width="3" height="6" fill="#F23645"/>
<rect x="683" y="389" width="1" height="10" fill="#089981"/>
<rect x="682" y="391" width="3" height="3" fill="#089981"/>
<rect x="687" y="392" width="1" height="9" fill="#F23645"/>
<rect x="686" y="394" width="3" height="7" fill="#F23645"/>
<rect x="691" y="396" width="1" height="5" fill="#089981"/>
<rect x="690" y="397" width="3" height="2" fill="#089981"/>
<rect x="693" y="404" width="3" height="8" fill="#F23645"/>
<rect x="698" y="404" width="1" height="6" fill="#089981"/>
<rect x="697" y="406" width="3" height="3" fill="#089981"/>
<rect x="702" y="405" width="1" height="6" fill="#F23645"/>
<rect x="701" y="407" width="3" height="1" fill="#F23645"/>
<rect x="706" y="408" width="1" height="5" fill="#F23645"/>
<rect x="705" y="409" width="3" height="3" fill="#F23645"/>
<rect x="710" y="411" width="1" height="7" fill="#F23645"/>
<rect x="709" y="413" width="3" height="4" fill="#F23645"/>
<rect x="712" y="415" width="3" height="8" fill="#F23645"/>
<rect x="717" y="419" width="1" height="4" fill="#F23645"/>
<rect x="716" y="421" width="3" height="1" fill="#F23645"/>
<rect x="721" y="419" width="1" height="3" fill="#F23645"/>
<rect x="720" y="421" width="3" height="1" fill="#F23645"/>
<rect x="725" y="415" width="1" height="6" fill="#F23645"/>
<rect x="724" y="417" width="3" height="4" fill="#F23645"/>
<rect x="728" y="414" width="1" height="7" fill="#089981"/>
<rect x="727" y="415" width="3" height="6" fill="#089981"/>
<rect x="732" y="437" width="1" height="12" fill="#089981"/>
<rect x="731" y="440" width="3" height="1" fill="#089981"/>
<rect x="736" y="439" width="1" height="7" fill="#F23645"/>
<rect x="735" y="440" width="3" height="5" fill="#F23645"/>
<rect x="740" y="445" width="1" height="6" fill="#F23645"/>
<rect x="739" y="446" width="3" height="5" fill="#F23645"/>
<rect x="743" y="446" width="1" height="8" fill="#089981"/>
<rect x="742" y="451" width="3" height="2" fill="#089981"/>
<rect x="747" y="449" width="1" height="3" fill="#F23645"/>
<rect x="746" y="449" width="3" height="1" fill="#F23645"/>
<rect x="751" y="446" width="1" height="3" fill="#F23645"/>
<rect x="750" y="446" width="3" height="1" fill="#F23645"/>
<rect x="755" y="445" width="1" height="3" fill="#F23645"/>
<rect x="754" y="445" width="3" height="2" fill="#F23645"/>
<rect x="758" y="443" width="1" height="7" fill="#F23645"/>
<rect x="757" y="446" width="3" height="4" fill="#F23645"/>
<rect x="762" y="453" width="1" height="3" fill="#089981"/>
<rect x="761" y="454" width="3" height="1" fill="#089981"/>
<rect x="766" y="451" width="1" height="4" fill="#089981"/>
<rect x="765" y="453" width="3" height="2" fill="#089981"/>
<rect x="770" y="450" width="1" height="6" fill="#F23645"/>
<rect x="769" y="451" width="3" height="5" fill="#F23645"/>
<rect x="773" y="445" width="1" height="10" fill="#089981"/>
<rect x="772" y="450" width="3" height="5" fill="#089981"/>
<rect x="777" y="445" width="1" height="5" fill="#089981"/>
<rect x="776" y="446" width="3" height="4" fill="#089981"/>
<rect x="781" y="443" width="1" height="5" fill="#F23645"/>
<rect x="780" y="443" width="3" height="1" fill="#F23645"/>
<rect x="785" y="437" width="1" height="6" fill="#089981"/>
<rect x="784" y="439" width="3" height="4" fill="#089981"/>
<rect x="788" y="438" width="1" height="4" fill="#F23645"/>
<rect x="787" y="438" width="3" height="3" fill="#F23645"/>
<rect x="792" y="436" width="1" height="5" fill="#089981"/>
<rect x="791" y="438" width="3" height="3" fill="#089981"/>
<rect x="796" y="437" width="1" height="5" fill="#F23645"/>
<rect x="795" y="439" width="3" height="3" fill="#F23645"/>
<rect x="800" y="438" width="1" height="8" fill="#F23645"/>
<rect x="799" y="439" width="3" height="5" fill="#F23645"/>
<rect x="803" y="442" width="1" height="13" fill="#F23645"/>
<rect x="802" y="443" width="3" height="11" fill="#F23645"/>
<rect x="807" y="446" width="1" height="7" fill="#089981"/>
<rect x="806" y="448" width="3" height="5" fill="#089981"/>
<rect x="811" y="443" width="1" height="6" fill="#089981"/>
<rect x="810" y="446" width="3" height="1" fill="#089981"/>
<rect x="815" y="449" width="1" height="5" fill="#F23645"/>
<rect x="814" y="450" width="3" height="4" fill="#F23645"/>
<rect x="818" y="450" width="1" height="3" fill="#F23645"/>
<rect x="817" y="452" width="3" height="1" fill="#F23645"/>
<rect x="822" y="447" width="1" height="7" fill="#089981"/>
<rect x="821" y="447" width="3" height="6" fill="#089981"/>
<rect x="825" y="446" width="3" height="7" fill="#F23645"/>
<rect x="829" y="448" width="3" height="7" fill="#F23645"/>
<rect x="834" y="448" width="1" height="6" fill="#089981"/>
<rect x="833" y="448" width="3" height="5" fill="#089981"/>
<rect x="837" y="449" width="1" height="4" fill="#F23645"/>
<rect x="836" y="450" width="3" height="1" fill="#F23645"/>
<rect x="840" y="448" width="3" height="5" fill="#089981"/>
<rect x="845" y="447" width="1" height="5" fill="#089981"/>
<rect x="844" y="447" width="3" height="4" fill="#089981"/>
<rect x="849" y="446" width="1" height="4" fill="#089981"/>
<rect x="848" y="447" width="3" height="2" fill="#089981"/>
<rect x="852" y="443" width="1" height="8" fill="#F23645"/>
<rect x="851" y="443" width="3" height="6" fill="#F23645"/>
<rect x="856" y="449" width="1" height="4" fill="#089981"/>
<rect x="855" y="450" width="3" height="1" fill="#089981"/>
<rect x="859" y="450" width="3" height="3" fill="#089981"/>
<rect x="863" y="446" width="3" height="6" fill="#089981"/>
<rect x="867" y="443" width="1" height="7" fill="#F23645"/>
<rect x="866" y="446" width="3" height="4" fill="#F23645"/>
<rect x="871" y="445" width="1" height="5" fill="#089981"/>
<rect x="870" y="449" width="3" height="1" fill="#089981"/>
<rect x="875" y="444" width="1" height="5" fill="#089981"/>
<rect x="874" y="446" width="3" height="2" fill="#089981"/>
<rect x="879" y="443" width="1" height="7" fill="#F23645"/>
<rect x="878" y="445" width="3" height="5" fill="#F23645"/>
<rect x="882" y="448" width="1" height="4" fill="#089981"/>
<rect x="881" y="448" width="3" height="1" fill="#089981"/>
<rect x="886" y="449" width="1" height="3" fill="#F23645"/>
<rect x="885" y="449" width="3" height="1" fill="#F23645"/>
<rect x="889" y="449" width="3" height="3" fill="#089981"/>
<rect x="894" y="444" width="1" height="5" fill="#089981"/>
<rect x="893" y="446" width="3" height="3" fill="#089981"/>
<rect x="897" y="446" width="1" height="3" fill="#F23645"/>
<rect x="896" y="447" width="3" height="1" fill="#F23645"/>
<rect x="901" y="444" width="1" height="5" fill="#089981"/>
<rect x="900" y="446" width="3" height="2" fill="#089981"/>
<rect x="905" y="444" width="1" height="3" fill="#089981"/>
<rect x="904" y="445" width="3" height="1" fill="#089981"/>
<rect x="909" y="436" width="1" height="8" fill="#089981"/>
<rect x="908" y="439" width="3" height="5" fill="#089981"/>
<rect x="912" y="423" width="1" height="10" fill="#089981"/>
<rect x="911" y="424" width="3" height="8" fill="#089981"/>
<rect x="916" y="415" width="1" height="11" fill="#F23645"/>
<rect x="915" y="416" width="3" height="4" fill="#F23645"/>
<rect x="920" y="416" width="1" height="7" fill="#089981"/>
<rect x="919" y="417" width="3" height="4" fill="#089981"/>
<rect x="924" y="415" width="1" height="14" fill="#F23645"/>
<rect x="923" y="416" width="3" height="13" fill="#F23645"/>
<rect x="927" y="413" width="1" height="13" fill="#089981"/>
<rect x="926" y="420" width="3" height="6" fill="#089981"/>
<rect x="931" y="415" width="1" height="6" fill="#F23645"/>
<rect x="930" y="419" width="3" height="2" fill="#F23645"/>
<rect x="935" y="420" width="1" height="5" fill="#F23645"/>
<rect x="934" y="421" width="3" height="1" fill="#F23645"/>
<rect x="939" y="400" width="1" height="21" fill="#F23645"/>
<rect x="938" y="408" width="3" height="13" fill="#F23645"/>
<rect x="943" y="407" width="1" height="13" fill="#F23645"/>
<rect x="942" y="417" width="3" height="1" fill="#F23645"/>
<rect x="946" y="419" width="1" height="13" fill="#F23645"/>
<rect x="945" y="420" width="3" height="12" fill="#F23645"/>
<rect x="950" y="428" width="1" height="5" fill="#089981"/>
<rect x="949" y="428" width="3" height="1" fill="#089981"/>
<rect x="954" y="430" width="1" height="3" fill="#F23645"/>
<rect x="953" y="432" width="3" height="1" fill="#F23645"/>
<rect x="958" y="433" width="1" height="9" fill="#F23645"/>
<rect x="957" y="435" width="3" height="7" fill="#F23645"/>
<rect x="961" y="439" width="1" height="8" fill="#F23645"/>
<rect x="960" y="443" width="3" height="4" fill="#F23645"/>
<rect x="965" y="442" width="1" height="4" fill="#F23645"/>
<rect x="964" y="443" width="3" height="1" fill="#F23645"/>
<rect x="968" y="443" width="3" height="6" fill="#F23645"/>
<rect x="972" y="447" width="3" height="7" fill="#F23645"/>
<rect x="976" y="447" width="1" height="5" fill="#089981"/>
<rect x="975" y="448" width="3" height="3" fill="#089981"/>
<rect x="980" y="448" width="1" height="14" fill="#F23645"/>
<rect x="979" y="451" width="3" height="11" fill="#F23645"/>
<rect x="984" y="514" width="1" height="12" fill="#F23645"/>
<rect x="983" y="514" width="3" height="5" fill="#F23645"/>
<rect x="988" y="526" width="1" height="8" fill="#F23645"/>
<rect x="987" y="527" width="3" height="1" fill="#F23645"/>
<rect x="991" y="524" width="1" height="7" fill="#F23645"/>
<rect x="990" y="526" width="3" height="5" fill="#F23645"/>
<rect x="995" y="527" width="1" height="10" fill="#F23645"/>
<rect x="994" y="529" width="3" height="8" fill="#F23645"/>
<rect x="998" y="525" width="3" height="12" fill="#089981"/>
<rect x="1003" y="528" width="1" height="5" fill="#F23645"/>
<rect x="1002" y="528" width="3" height="4" fill="#F23645"/>
<rect x="1006" y="529" width="1" height="7" fill="#F23645"/>
<rect x="1005" y="530" width="3" height="5" fill="#F23645"/>
<rect x="1009" y="525" width="3" height="9" fill="#089981"/>
<rect x="1013" y="525" width="3" height="5" fill="#F23645"/>
<rect x="1018" y="521" width="1" height="6" fill="#089981"/>
<rect x="1017" y="524" width="3" height="3" fill="#089981"/>
<rect x="1020" y="522" width="3" height="4" fill="#089981"/>
<rect x="1025" y="515" width="1" height="8" fill="#089981"/>
<rect x="1024" y="517" width="3" height="6" fill="#089981"/>
<rect x="1029" y="520" width="1" height="3" fill="#F23645"/>
<rect x="1028" y="520" width="3" height="2" fill="#F23645"/>
<rect x="1032" y="518" width="3" height="4" fill="#089981"/>
<rect x="1035" y="518" width="3" height="11" fill="#F23645"/>
<rect x="1040" y="522" width="1" height="5" fill="#089981"/>
<rect x="1039" y="525" width="3" height="2" fill="#089981"/>
<rect x="1043" y="525" width="3" height="4" fill="#F23645"/>
<rect x="1048" y="527" width="1" height="3" fill="#F23645"/>
<rect x="1047" y="528" width="3" height="1" fill="#F23645"/>
<rect x="1051" y="528" width="1" height="5" fill="#F23645"/>
<rect x="1050" y="529" width="3" height="4" fill="#F23645"/>
<rect x="1055" y="524" width="1" height="8" fill="#089981"/>
<rect x="1054" y="528" width="3" height="4" fill="#089981"/>
<rect x="1059" y="513" width="1" height="8" fill="#089981"/>
<rect x="1058" y="513" width="3" height="7" fill="#089981"/>
<rect x="1063" y="516" width="1" height="13" fill="#F23645"/>
<rect x="1062" y="517" width="3" height="12" fill="#F23645"/>
<rect x="1067" y="528" width="1" height="6" fill="#F23645"/>
<rect x="1066" y="531" width="3" height="3" fill="#F23645"/>
<rect x="1070" y="530" width="1" height="4" fill="#089981"/>
<rect x="1069" y="533" width="3" height="1" fill="#089981"/>
<rect x="1074" y="533" width="1" height="6" fill="#F23645"/>
<rect x="1073" y="533" width="3" height="5" fill="#F23645"/>
<rect x="1078" y="532" width="1" height="5" fill="#089981"/>
<rect x="1077" y="536" width="3" height="1" fill="#089981"/>
<rect x="1082" y="535" width="1" height="5" fill="#F23645"/>
<rect x="1081" y="536" width="3" height="1" fill="#F23645"/>
<rect x="1085" y="531" width="1" height="9" fill="#089981"/>
<rect x="1084" y="531" width="3" height="6" fill="#089981"/>
<rect x="1089" y="532" width="1" height="4" fill="#F23645"/>
<rect x="1088" y="533" width="3" height="1" fill="#F23645"/>
<rect x="1093" y="530" width="1" height="4" fill="#089981"/>
<rect x="1092" y="531" width="3" height="3" fill="#089981"/>
<rect x="1097" y="521" width="1" height="10" fill="#089981"/>
<rect x="1096" y="522" width="3" height="8" fill="#089981"/>
<rect x="1100" y="509" width="1" height="10" fill="#F23645"/>
<rect x="1099" y="516" width="3" height="3" fill="#F23645"/>
<rect x="1104" y="516" width="1" height="8" fill="#F23645"/>
<rect x="1103" y="519" width="3" height="5" fill="#F23645"/>
<rect x="1108" y="516" width="1" height="5" fill="#F23645"/>
<rect x="1107" y="519" width="3" height="2" fill="#F23645"/>
<rect x="1112" y="505" width="1" height="21" fill="#089981"/>
<rect x="1111" y="515" width="3" height="8" fill="#089981"/>
<rect x="1115" y="508" width="1" height="6" fill="#089981"/>
<rect x="1114" y="510" width="3" height="1" fill="#089981"/>
<rect x="1119" y="505" width="1" height="7" fill="#089981"/>
<rect x="1118" y="508" width="3" height="3" fill="#089981"/>
<rect x="1123" y="498" width="1" height="11" fill="#089981"/>
<rect x="1122" y="502" width="3" height="7" fill="#089981"/>
<rect x="1127" y="496" width="1" height="8" fill="#F23645"/>
<rect x="1126" y="497" width="3" height="3" fill="#F23645"/>
<rect x="1130" y="494" width="1" height="7" fill="#F23645"/>
<rect x="1129" y="498" width="3" height="2" fill="#F23645"/>
<rect x="1134" y="499" width="1" height="7" fill="#F23645"/>
<rect x="1133" y="501" width="3" height="3" fill="#F23645"/>
<rect x="1138" y="501" width="1" height="11" fill="#F23645"/>
<rect x="1137" y="503" width="3" height="7" fill="#F23645"/>
<rect x="1142" y="506" width="1" height="5" fill="#F23645"/>
<rect x="1141" y="509" width="3" height="2" fill="#F23645"/>
<rect x="1145" y="508" width="1" height="8" fill="#089981"/>
<rect x="1144" y="512" width="3" height="1" fill="#089981"/>
<rect x="1149" y="507" width="1" height="5" fill="#F23645"/>
<rect x="1148" y="509" width="3" height="1" fill="#F23645"/>
<rect x="1153" y="509" width="1" height="5" fill="#F23645"/>
<rect x="1152" y="511" width="3" height="1" fill="#F23645"/>
<rect x="1157" y="503" width="1" height="10" fill="#089981"/>
<rect x="1156" y="504" width="3" height="9" fill="#089981"/>
<rect x="1160" y="503" width="1" height="3" fill="#089981"/>
<rect x="1159" y="503" width="3" height="1" fill="#089981"/>
<rect x="1164" y="502" width="1" height="5" fill="#089981"/>
<rect x="1163" y="505" width="3" height="1" fill="#089981"/>
<rect x="1168" y="500" width="1" height="7" fill="#089981"/>
<rect x="1167" y="502" width="3" height="5" fill="#089981"/>
<rect x="1172" y="500" width="1" height="4" fill="#F23645"/>
<rect x="1171" y="502" width="3" height="2" fill="#F23645"/>
<rect x="1176" y="501" width="1" height="9" fill="#F23645"/>
<rect x="1175" y="503" width="3" height="7" fill="#F23645"/>
<rect x="1179" y="510" width="1" height="6" fill="#F23645"/>
<rect x="1178" y="511" width="3" height="1" fill="#F23645"/>
<rect x="1183" y="508" width="1" height="4" fill="#F23645"/>
<rect x="1182" y="508" width="3" height="3" fill="#F23645"/>
<rect x="1186" y="508" width="3" height="2" fill="#089981"/>
<rect x="1191" y="508" width="1" height="4" fill="#F23645"/>
<rect x="1190" y="509" width="3" height="3" fill="#F23645"/>
</g>
<!-- green horizontal line -->
<rect x="84" y="588" width="1146" height="2" fill="#43A548" shape-rendering="crispEdges"/>

<!-- TradingView logo -->
<g>
 <g fill="none" stroke="#fff" stroke-width="4" stroke-linejoin="round">
  <path d="M96 710.5H108V724.4H102V715.5H96Z"/>
  <circle cx="112.7" cy="712.8" r="2.3"/>
  <path d="M118.8 710.5H126L120.4 724.4H112.9Z"/>
 </g>
 <text x="133.6" y="724.4" font-size="19" font-weight="bold" fill="#131722" style="letter-spacing:0.847px" font-family="Liberation Sans, sans-serif" stroke="#fff" stroke-width="4.5" stroke-linejoin="round">TradingView</text><text x="133.6" y="724.4" font-size="19" font-weight="bold" fill="#131722" style="letter-spacing:0.847px" font-family="Liberation Sans, sans-serif" stroke="#131722" stroke-width=".45">TradingView</text>
 <g fill="#131722">
  <path d="M96 710.5H108V724.4H102V715.5H96Z"/>
  <circle cx="112.7" cy="712.8" r="2.3"/>
  <path d="M118.8 710.5H126L120.4 724.4H112.9Z"/>
 </g>
</g>

<!-- event markers -->
<g font-family="Liberation Sans, sans-serif" font-size="12.4" text-anchor="middle">
<path d="M253.9 735.1V721L262.5 716.4L271.1 721V735.1Z" fill="#fff" stroke="#fff" stroke-width="4" stroke-linejoin="round"/><path d="M253.9 735.1V721L262.5 716.4L271.1 721V735.1Z" fill="#fff" stroke="#089981" stroke-width="1.8" stroke-linejoin="round"/><text transform="translate(262.6 730.9) scale(.82 1)" fill="#089981" stroke="#089981" stroke-width=".25">E</text>
<circle cx="289.5" cy="726.5" r="11.4" fill="#fff"/><circle cx="289.5" cy="726.5" r="9.5" fill="#fff" stroke="#2962FF" stroke-width="1.8"/><text transform="translate(290.0 730.9) scale(.88 1)" fill="#2962FF" stroke="#2962FF" stroke-width=".25">D</text>
<path d="M483.9 735.1V721L492.5 716.4L501.1 721V735.1Z" fill="#fff" stroke="#fff" stroke-width="4" stroke-linejoin="round"/><path d="M483.9 735.1V721L492.5 716.4L501.1 721V735.1Z" fill="#fff" stroke="#089981" stroke-width="1.8" stroke-linejoin="round"/><text transform="translate(492.6 730.9) scale(.82 1)" fill="#089981" stroke="#089981" stroke-width=".25">E</text>
<circle cx="522.5" cy="726.5" r="11.4" fill="#fff"/><circle cx="522.5" cy="726.5" r="9.5" fill="#fff" stroke="#2962FF" stroke-width="1.8"/><text transform="translate(523.0 730.9) scale(.88 1)" fill="#2962FF" stroke="#2962FF" stroke-width=".25">D</text>
<path d="M719.9 735.1V721L728.5 716.4L737.1 721V735.1Z" fill="#fff" stroke="#fff" stroke-width="4" stroke-linejoin="round"/><path d="M719.9 735.1V721L728.5 716.4L737.1 721V735.1Z" fill="#fff" stroke="#089981" stroke-width="1.8" stroke-linejoin="round"/><text transform="translate(728.6 730.9) scale(.82 1)" fill="#089981" stroke="#089981" stroke-width=".25">E</text>
<circle cx="755.5" cy="726.5" r="11.4" fill="#fff"/><circle cx="755.5" cy="726.5" r="9.5" fill="#fff" stroke="#2962FF" stroke-width="1.8"/><text transform="translate(756.0 730.9) scale(.88 1)" fill="#2962FF" stroke="#2962FF" stroke-width=".25">D</text>
<circle cx="995.5" cy="726.5" r="11.4" fill="#fff"/><circle cx="995.5" cy="726.5" r="9.5" fill="#fff" stroke="#2962FF" stroke-width="1.8"/><text transform="translate(996.0 730.9) scale(.88 1)" fill="#2962FF" stroke="#2962FF" stroke-width=".25">D</text>
<path d="M972.2 718.2H988.4V731L980.3 735.7L972.2 731Z" fill="#fff" stroke="#fff" stroke-width="4" stroke-linejoin="round"/>
<path d="M972.2 718.2H988.4V731L980.3 735.7L972.2 731Z" fill="#fff" stroke="#F23645" stroke-width="1.8" stroke-linejoin="round"/>
<text transform="translate(980.6 730.7) scale(.82 1)" fill="#F23645" stroke="#F23645" stroke-width=".25">E</text>
<circle cx="1191.6" cy="726.4" r="11.6" fill="#fff"/>
<circle cx="1191.6" cy="726.4" r="9.8" fill="#fff" stroke="#8E24AA" stroke-width="1.4"/>
<path d="M1194.8 721L1187.2 726.9H1191.3L1188 732L1195.8 726H1191.5Z" fill="#8E24AA" stroke="#8E24AA" stroke-width=".6" stroke-linejoin="round"/>
<clipPath id="clipE"><rect x="1200" y="700" width="30" height="50"/></clipPath>
<g clip-path="url(#clipE)">
<rect x="1212.9" y="717.8" width="17.2" height="17.2" rx="1" fill="#fff" stroke="#E040FB" stroke-width="2"/>
<text transform="translate(1221.6 730.9) scale(.82 1)" fill="#E040FB" stroke="#E040FB" stroke-width=".25">E</text>
</g>
</g>

<!-- settings hexagon -->
<g fill="none" stroke="#131722" stroke-width="1.2" stroke-linejoin="round">
 <path d="M1256.5 753.45L1259.9 747.6H1267.1L1270.5 753.45L1267.1 759.3H1259.9Z"/>
 <circle cx="1263.5" cy="753.45" r="2"/>
</g>

<!-- websim logo -->
<g fill="#012D60">
 <circle cx="547" cy="788" r="7.2"/>
 <path d="M568.3 780.9H580.9L558.6 830.4L552.2 816.5Z"/>
 <path d="M590.3 780.9H603L580.7 830.4L574.1 816.5Z"/>
 <text x="617.07" y="830.5" font-size="68.5" fill="#012D60" style="letter-spacing:-2.903px" font-family="Liberation Sans, sans-serif" stroke="#012D60" stroke-width="1.2">websim</text>
</g>
</svg>

<!-- header -->
<svg class="abs" style="left:93px;top:90px" width="18.2" height="18" viewBox="0 0 18.2 18">
 <circle cx="9.1" cy="8.95" r="9.05" fill="#0071C5"/>
 <ellipse cx="9" cy="9" rx="5.7" ry="3.7" fill="none" stroke="#fff" stroke-width=".8" stroke-dasharray="12.5 2.6 12 2.6" stroke-dashoffset="-3" transform="rotate(-6 9 9)"/>
 <text x="9.1" y="10.6" font-family="Liberation Sans, sans-serif" font-size="4.7" fill="#fff" stroke="#fff" stroke-width=".25" text-anchor="middle" style="letter-spacing:-.1px">intel</text>
</svg>

<div class="abs" style="left:263px;top:90px;width:40px;height:18px;border-radius:9px;overflow:hidden;">
 <div class="abs" style="left:0;top:0;width:20px;height:18px;background:#DDF1ED;"></div>
 <div class="abs" style="left:20px;top:0;width:20px;height:18px;background:#FCDDE7;"></div>
 <div class="abs" style="left:7px;top:5px;width:8px;height:8px;border-radius:4px;background:#089981;"></div>
 <div class="abs" style="left:24px;top:0px;width:10px;font-size:15px;line-height:18px;font-weight:bold;color:#E91E63;text-align:center;">≈</div>
</div>


<div class="box" style="left:92px;top:115px;width:55px;height:34px;border-color:#F23645;color:#F23645;"></div>
<div class="box" style="left:182px;top:115px;width:65px;height:34px;border-color:#2962FF;color:#2962FF;"></div>

<div class="abs" style="left:92px;top:158px;width:83px;height:16px;background:#fff;"></div>

<div class="abs" style="left:93px;top:179px;width:29px;height:21px;box-sizing:border-box;border:1px solid #CDD3E0;border-radius:4px;background:#fff;"></div>
<svg class="abs" style="left:101px;top:185px" width="13" height="9" viewBox="0 0 13 9"><path d="M2.3 6.8L6.5 2.9L10.7 6.8" fill="none" stroke="#131722" stroke-width="1.5"/></svg>

<!-- price axis -->
<div class="abs" style="left:1234px;top:87px;width:53px;height:26px;overflow:hidden;">
 <div class="abs" style="left:0;top:0;width:60px;height:26px;box-sizing:border-box;border:1px solid #DCE0EA;border-radius:4px;"></div>
 <svg class="abs" style="left:47px;top:10px" width="10" height="8" viewBox="0 0 10 8"><path d="M1.9 2.3L5 5.1L8.1 2.3" fill="none" stroke="#131722" stroke-width="1.3"/></svg>
</div>

<div class="abs" style="left:1231px;top:503px;width:56px;height:31px;background:#F23645;color:#fff;font-size:12px;line-height:14px;">
</div>
<div class="abs" style="left:1231px;top:581px;width:43px;height:17px;background:#4CAF50;border-radius:2px;color:#fff;font-size:12px;line-height:17px;font-weight:bold;"></div>
<div class="abs" style="left:1231px;top:723px;width:56px;height:16px;background:#EF5350;color:#fff;font-size:12px;line-height:16px;font-weight:bold;"></div>

<!-- time axis -->
<svg class="abs" style="left:0;top:0;will-change:transform" width="1371" height="848" viewBox="0 0 1371 848" font-family="Liberation Sans, sans-serif">
<text transform="translate(115.12 104.9) scale(0.877 1)" font-size="15.8" fill="#131722" style="letter-spacing:0px">INTC · 1D · NASDAQ</text>
<text x="318.95" y="103.7" font-size="12" fill="#131722" style="letter-spacing:0.302px">O - Aper.</text>
<text x="371.1" y="103.7" font-size="12" fill="#F23645" style="letter-spacing:0.336px">22,61</text>
<text x="408.35" y="103.7" font-size="12" fill="#131722" style="letter-spacing:0.229px">H - Max.</text>
<text x="458.7" y="103.7" font-size="12" fill="#F23645" style="letter-spacing:0.336px">22,72</text>
<text x="496.05" y="103.7" font-size="12" fill="#131722" style="letter-spacing:0.575px">L - Min.</text>
<text x="540.8" y="103.7" font-size="12" fill="#F23645" style="letter-spacing:0.461px">22,25</text>
<text x="578.9" y="103.7" font-size="12" fill="#131722" style="letter-spacing:0.349px">C - Chius.</text>
<text x="636.4" y="103.7" font-size="12" fill="#F23645" style="letter-spacing:0.399px">22,33</text>
<text x="674.55" y="103.7" font-size="12" fill="#F23645" style="letter-spacing:0.186px">−0,45 (−1,95%)</text>
<text x="93.25" y="169.8" font-size="12" fill="#131722" style="letter-spacing:0.567px">Vol</text>
<text x="118.8" y="169.8" font-size="12" fill="#F23645" style="letter-spacing:0.159px">12,075 M</text>
<text x="103.4" y="129.9" font-size="12" font-weight="bold" fill="#F23645" style="letter-spacing:0.461px">22,32</text>
<text x="104.5" y="143.7" font-size="10" fill="#F23645" style="letter-spacing:-0.146px">VENDI</text>
<text x="154.4" y="135.8" font-size="8.8" fill="#131722" style="letter-spacing:0.622px">0,01</text>
<text x="198.9" y="129.9" font-size="12" font-weight="bold" fill="#2962FF" style="letter-spacing:0.449px">22,33</text>
<text x="192.9" y="143.7" font-size="10" fill="#2962FF" style="letter-spacing:-0.184px">COMPRA</text>
<text transform="translate(1237.62 104.05) scale(0.8672 1)" font-size="12" fill="#131722" style="letter-spacing:0px">USD</text>
<text x="1238.9" y="514.8" font-size="12" font-weight="bold" fill="#fff" style="letter-spacing:-0.051px">22,33</text>
<text x="1238.6" y="528.5" font-size="11.5" fill="#FAC3C7" style="letter-spacing:0.362px" stroke="#FAC3C7" stroke-width=".35">04:40:04</text>
<text x="1239.3" y="592.7" font-size="11.5" font-weight="bold" fill="#fff" style="letter-spacing:0.413px">11,96</text>
<text x="1239" y="734.6" font-size="11.5" font-weight="bold" fill="#fff" style="letter-spacing:-0.088px">12,075 M</text>
<text x="110.9" y="756.8" font-size="11.5" fill="#131722" style="letter-spacing:-0.008px">Set</text>
<text x="267" y="756.8" font-size="11.5" fill="#131722" style="letter-spacing:-0.125px">Nov</text>
<text x="417.4" y="756.8" font-size="12" font-weight="bold" fill="#131722" style="letter-spacing:0.41px">2024</text>
<text x="574.9" y="756.8" font-size="11.5" fill="#131722" style="letter-spacing:0.037px">Mar</text>
<text x="731.3" y="756.8" font-size="11.5" fill="#131722" style="letter-spacing:0.212px">Mag</text>
<text x="816.45" y="756.8" font-size="11.5" fill="#131722" style="letter-spacing:0.8px">Giu</text>
<text transform="translate(970.7 756.8) scale(0.9392 1)" font-size="11.5" fill="#131722" style="letter-spacing:0px">Ago</text>
<text x="1054.7" y="756.8" font-size="11.5" fill="#131722" style="letter-spacing:-0.008px">Set</text>
<text x="1238.4" y="172.1" font-size="12.5" fill="#131722" style="letter-spacing:-0.207px">68,00</text>
<text x="1238.4" y="232.1" font-size="12.5" fill="#131722" style="letter-spacing:-0.207px">60,00</text>
<text x="1238.5" y="292.1" font-size="12.5" fill="#131722" style="letter-spacing:-0.232px">52,00</text>
<text x="1238.75" y="352.1" font-size="12.5" fill="#131722" style="letter-spacing:-0.295px">44,00</text>
<text x="1238.55" y="412.1" font-size="12.5" fill="#131722" style="letter-spacing:-0.245px">36,00</text>
<text x="1238.4" y="472.1" font-size="12.5" fill="#131722" style="letter-spacing:-0.207px">28,00</text>
<text x="1238.4" y="712.1" font-size="12.5" fill="#131722" style="letter-spacing:-0.294px">−4,00</text>
<text x="1239.15" y="652.1" font-size="12.5" fill="#131722" style="letter-spacing:-0.509px">4,00</text>
<clipPath id="clipN"><rect x="1200" y="740" width="30" height="30"/></clipPath><text x="1214.5" y="756.8" font-size="11.5" fill="#131722" clip-path="url(#clipN)">Nov</text>
</svg>
</body>
</html>
